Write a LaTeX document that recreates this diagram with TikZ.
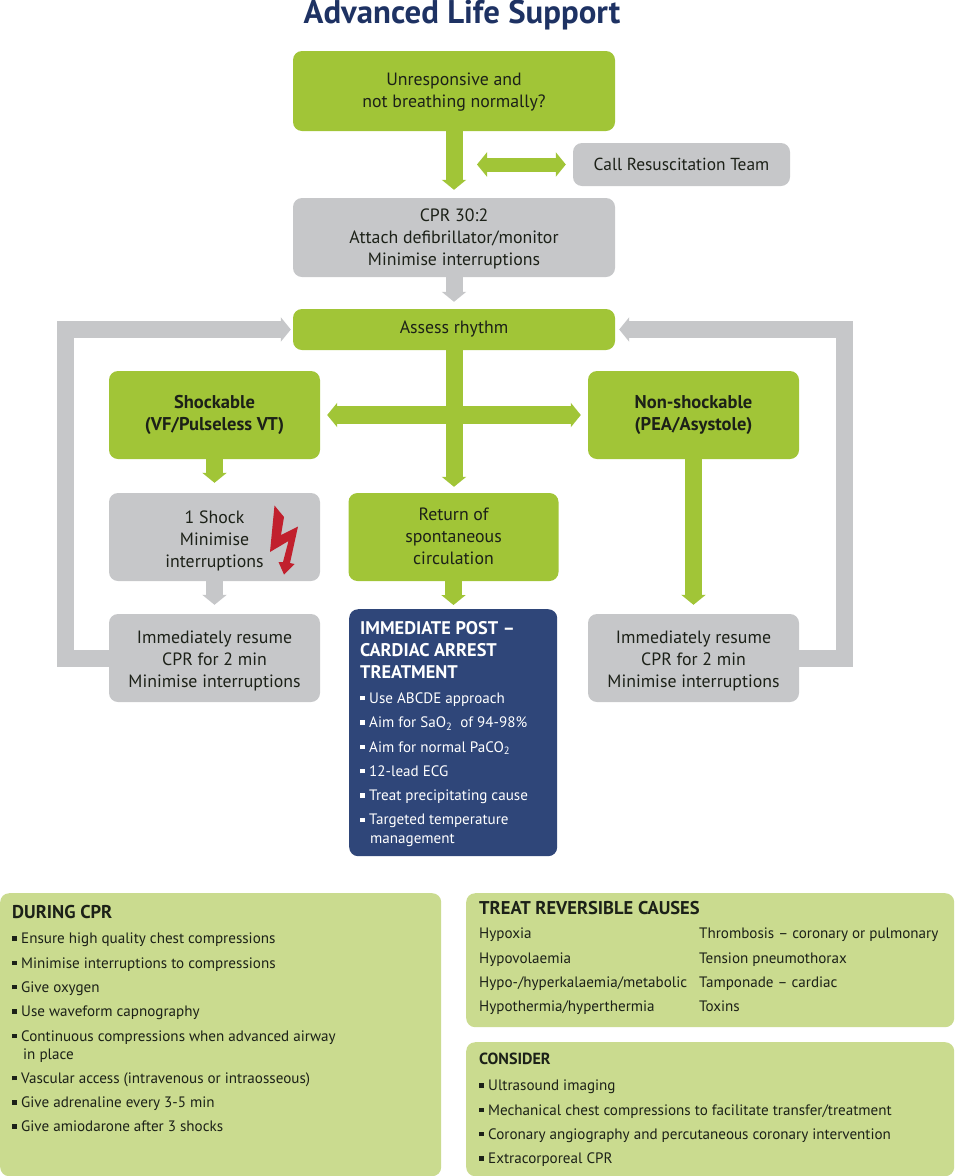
\documentclass[tikz,border=0pt]{standalone}
\usepackage{fontspec}
\setmainfont{PT Sans}
\usetikzlibrary{arrows.meta}
\definecolor{algreen}{HTML}{A1C537}
\definecolor{algrey}{HTML}{C6C7C9}
\definecolor{alnavy}{HTML}{2F4679}
\definecolor{altitle}{HTML}{1E3263}
\definecolor{alpale}{HTML}{CADB8F}
\definecolor{alink}{HTML}{1C2118}
\definecolor{albolt}{HTML}{C1202D}
\newcommand{\blt}{\raisebox{.2em}{\rule{4.4pt}{4.4pt}}\hspace{4.6pt}}
\newcommand{\drop}[1]{\rule{0pt}{#1}}
\tikzset{
  boxbase/.style={rounded corners=9pt, inner sep=0pt, align=center, text=alink,
    font=\fontsize{17.8}{22}\selectfont, minimum width=#1},
  greenbox/.style={boxbase=#1, fill=algreen},
  greybox/.style={boxbase=#1, fill=algrey},
  panel/.style={rounded corners=9pt, inner sep=0pt, anchor=north west},
  listtext/.style={inner sep=0pt, anchor=north west, align=left, text=alink,
    font=\fontsize{15.1}{24.3}\selectfont},
  paneltitle/.style={inner sep=0pt, anchor=north west, align=left, text=alink,
    font=\fontsize{18.5}{22}\selectfont\bfseries},
  greenflow/.style={draw=algreen, line width=17pt, line join=miter,
    -{Triangle[width=24pt,length=10pt]}},
  greyflow/.style={draw=algrey, line width=17pt, line join=miter,
    -{Triangle[width=24pt,length=10pt]}},
  twoway/.style={draw=algreen, line width=#1,
    {Triangle[width=24pt,length=10pt]}-{Triangle[width=24pt,length=10pt]}}
}
\begin{document}
\begin{tikzpicture}[x=1pt,y=-1pt]
\useasboundingbox (0,0) rectangle (954,1176);

% heading
\node[inner sep=0pt, text=altitle, font=\fontsize{32.8}{36}\selectfont\bfseries] (title) at (462,15) {Advanced Life Support};

% flow boxes
\node[greenbox=322pt, minimum height=80pt] (start) at (454,91) {\drop{15pt}Unresponsive and\\not breathing normally?};
\node[greybox=217pt, minimum height=43pt, font=\fontsize{17.4}{22}\selectfont] (team) at (681.5,164.5) {Call Resuscitation Team};
\node[greybox=322pt, minimum height=79pt] (cpr) at (454,237.5) {\drop{15pt}CPR 30:2\\Attach defibrillator/monitor\\Minimise interruptions};
\node[greenbox=322pt, minimum height=41pt] (assess) at (454,329.5) {\raisebox{4pt}{Assess rhythm}};
\node[greenbox=211pt, minimum height=88pt, font=\fontsize{18.5}{22}\selectfont\bfseries] (shock) at (214.5,415) {Shockable\\(VF/Pulseless VT)};
\node[greenbox=211pt, minimum height=88pt, font=\fontsize{18.5}{22}\selectfont\bfseries] (nonshock) at (693.5,415) {Non-shockable\\(PEA/Asystole)};
\node[greybox=211pt, minimum height=88pt] (oneshock) at (214.5,537) {\drop{21pt}1 Shock\\Minimise\\interruptions};
\node[greenbox=210pt, minimum height=88pt] (rosc) at (453.5,537) {Return of\\spontaneous\\circulation\rule[-2pt]{0pt}{0pt}};
\node[greybox=211pt, minimum height=88pt] (resumeL) at (214.5,658) {\drop{19pt}Immediately resume\\CPR for 2 min\\Minimise interruptions};
\node[greybox=211pt, minimum height=88pt] (resumeR) at (693.5,658) {\drop{19pt}Immediately resume\\CPR for 2 min\\Minimise interruptions};

% shock symbol
\fill[albolt] (274.5,505.5) -- (284,517) -- (281,535) -- (298,526.5) -- (290,563) -- (294.5,564)
  -- (284,574.5) -- (278.5,562) -- (283,562) -- (288.5,541) -- (270,552) -- cycle;

% post-arrest treatment
\node[panel, fill=alnavy, minimum width=208pt, minimum height=247pt] (post) at (349,609) {};
\node[paneltitle, text=white, font=\fontsize{18.3}{22}\selectfont\bfseries] (posthead) at (360,621) {IMMEDIATE POST --\\CARDIAC ARREST\\TREATMENT};
\node[listtext, text=white] (postlist) at (360,692.5) {\blt Use ABCDE approach\\
\blt Aim for SaO\textsubscript{2}\ \ of 94-98\%\\
\blt Aim for normal PaCO\textsubscript{2}\\
\blt 12-lead ECG\\
\blt Treat precipitating cause\\
\blt Targeted temperature\\[-5.4pt]
\hspace{1pt}\hphantom{\blt}management};

% lower panels
\node[panel, fill=alpale, minimum width=441pt, minimum height=283pt] (during) at (0,893) {};
\node[paneltitle] (duringhead) at (12,905) {DURING CPR};
\node[listtext] (duringlist) at (12,933) {\blt Ensure high quality chest compressions\\
\blt Minimise interruptions to compressions\\
\blt Give oxygen\\
\blt Use waveform capnography\\
\blt Continuous compressions when advanced airway\\[-6.4pt]
\hspace{2pt}\hphantom{\blt}in place\\
\blt Vascular access (intravenous or intraosseous)\\
\blt Give adrenaline every 3-5 min\\
\blt Give amiodarone after 3 shocks};

\node[panel, fill=alpale, minimum width=488pt, minimum height=134pt] (causes) at (466,893) {};
\node[paneltitle] (causeshead) at (479,901) {TREAT REVERSIBLE CAUSES};
\node[listtext] (causesA) at (479,928) {Hypoxia\\Hypovolaemia\\Hypo-/hyperkalaemia/metabolic\\Hypothermia/hyperthermia};
\node[listtext] (causesB) at (699,928) {Thrombosis -- coronary or pulmonary\\Tension pneumothorax\\Tamponade -- cardiac\\Toxins};

\node[panel, fill=alpale, minimum width=488pt, minimum height=134pt] (consider) at (466,1042) {};
\node[paneltitle, font=\fontsize{16.1}{20}\selectfont\bfseries] (considerhead) at (479,1053) {CONSIDER};
\node[listtext] (considerlist) at (479,1080) {\blt Ultrasound imaging\\
\blt Mechanical chest compressions to facilitate transfer/treatment\\
\blt Coronary angiography and percutaneous coronary intervention\\
\blt Extracorporeal CPR};

% connectors
\coordinate (teamend) at (477,164.5);
\draw[greenflow, shorten >=8pt] (start.south) -- (cpr.north);
\draw[twoway=14pt, shorten <=7pt] (team.west) -- (teamend);
\draw[greyflow, shorten >=7pt] (cpr.south) -- (assess.north);
\draw[greenflow, shorten >=6pt] (assess.south) -- (rosc.north -| assess.south);
\draw[twoway=18pt, shorten <=7pt, shorten >=7pt] (shock.east) -- (nonshock.west);
\draw[greenflow, shorten >=10pt] (shock.south) -- (oneshock.north);
\draw[greyflow, shorten >=9pt] (oneshock.south) -- (resumeL.north);
\draw[greenflow, shorten >=4pt] (rosc.south) -- (post.north -| rosc.south);
\draw[greenflow, shorten >=9pt] (nonshock.south) -- (resumeR.north);
\draw[greyflow, shorten >=2pt] (resumeL.west) -- ++(-43.5,0) |- (assess.west);
\draw[greyflow, shorten >=4pt] (resumeR.east) -- ++(45.5,0) |- (assess.east);
\end{tikzpicture}
\end{document}
